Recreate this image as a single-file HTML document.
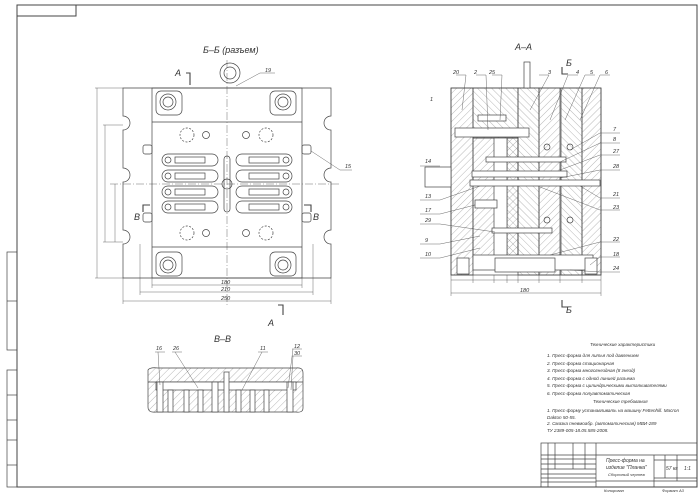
<!DOCTYPE html>
<html><head><meta charset="utf-8"><style>
html,body{margin:0;padding:0;background:#fff;}
svg{display:block;}
text{font-family:"Liberation Sans",sans-serif;font-style:italic;fill:#333;}
</style></head><body>
<svg width="700" height="495" viewBox="0 0 700 495" xmlns="http://www.w3.org/2000/svg">
<defs>
<pattern id="h1" width="5" height="5" patternUnits="userSpaceOnUse" patternTransform="rotate(45)"><line x1="0" y1="0" x2="0" y2="5" stroke="#888" stroke-width="0.6"/></pattern>
<pattern id="h2" width="5" height="5" patternUnits="userSpaceOnUse" patternTransform="rotate(-45)"><line x1="0" y1="0" x2="0" y2="5" stroke="#888" stroke-width="0.6"/></pattern>
</defs>
<g fill="none" stroke="#444" stroke-width="0.7">
<!-- frame -->
<rect x="17" y="5" width="680" height="482" stroke-width="1"/>
<rect x="17" y="5" width="59" height="11" stroke-width="1"/>
<rect x="7" y="252" width="10" height="98"/><line x1="7" y1="301" x2="17" y2="301"/>
<rect x="7" y="370" width="10" height="117"/>
<line x1="7" y1="395" x2="17" y2="395"/><line x1="7" y1="420" x2="17" y2="420"/><line x1="7" y1="440" x2="17" y2="440"/><line x1="7" y1="465" x2="17" y2="465"/>

<!-- B-B view -->
<path d="M123 88 H331 V116 A7 7 0 0 0 331 130 V168 A7 7 0 0 0 331 182 V230 A7 7 0 0 0 331 244 V278 H123 V244 A7 7 0 0 0 123 230 V182 A7 7 0 0 0 123 168 V130 A7 7 0 0 0 123 116 Z"/>
<rect x="152" y="88" width="150" height="190"/>
<line x1="152" y1="122" x2="302" y2="122"/><line x1="152" y1="247" x2="302" y2="247"/>
<g>
<rect x="156" y="91" width="26" height="24" rx="5"/><circle cx="168" cy="102" r="8"/><circle cx="168" cy="102" r="5"/>
<rect x="270" y="91" width="26" height="24" rx="5"/><circle cx="283" cy="102" r="8"/><circle cx="283" cy="102" r="5"/>
<rect x="156" y="252" width="26" height="24" rx="5"/><circle cx="168" cy="265" r="8"/><circle cx="168" cy="265" r="5"/>
<rect x="270" y="252" width="26" height="24" rx="5"/><circle cx="283" cy="265" r="8"/><circle cx="283" cy="265" r="5"/>
</g>
<circle cx="230" cy="73" r="10"/><circle cx="230" cy="73" r="6"/>
<g stroke-dasharray="2 1.5"><circle cx="187" cy="135" r="7"/><circle cx="266" cy="135" r="7"/><circle cx="187" cy="233" r="7"/><circle cx="266" cy="233" r="7"/></g>
<circle cx="206" cy="135" r="3.5"/><circle cx="246" cy="135" r="3.5"/><circle cx="206" cy="233" r="3.5"/><circle cx="246" cy="233" r="3.5"/>
<g>
<rect x="162" y="154" width="56" height="12" rx="6"/><rect x="236" y="154" width="56" height="12" rx="6"/>
<rect x="162" y="170" width="56" height="12" rx="6"/><rect x="236" y="170" width="56" height="12" rx="6"/>
<rect x="162" y="186" width="56" height="12" rx="6"/><rect x="236" y="186" width="56" height="12" rx="6"/>
<rect x="162" y="201" width="56" height="12" rx="6"/><rect x="236" y="201" width="56" height="12" rx="6"/>
<rect x="175" y="157" width="30" height="6"/><rect x="249" y="157" width="30" height="6"/>
<rect x="175" y="173" width="30" height="6"/><rect x="249" y="173" width="30" height="6"/>
<rect x="175" y="189" width="30" height="6"/><rect x="249" y="189" width="30" height="6"/>
<rect x="175" y="204" width="30" height="6"/><rect x="249" y="204" width="30" height="6"/>
<circle cx="168" cy="160" r="3"/><circle cx="286" cy="160" r="3"/><circle cx="168" cy="176" r="3"/><circle cx="286" cy="176" r="3"/>
<circle cx="168" cy="192" r="3"/><circle cx="286" cy="192" r="3"/><circle cx="168" cy="207" r="3"/><circle cx="286" cy="207" r="3"/>
<rect x="224" y="156" width="6" height="56" rx="3"/><circle cx="227" cy="184" r="5"/>
</g>
<rect x="143" y="145" width="9" height="9" rx="2"/><rect x="302" y="145" width="9" height="9" rx="2"/>
<rect x="143" y="213" width="9" height="9" rx="2"/><rect x="302" y="213" width="9" height="9" rx="2"/>
<g stroke-width="0.4" stroke-dasharray="8 2 1 2"><line x1="227" y1="60" x2="227" y2="305"/><line x1="110" y1="184" x2="340" y2="184"/></g>
<g stroke-width="0.4">
<line x1="152" y1="278" x2="152" y2="288"/><line x1="302" y1="278" x2="302" y2="288"/><line x1="152" y1="285" x2="302" y2="285"/>
<line x1="140" y1="244" x2="140" y2="295"/><line x1="313" y1="244" x2="313" y2="295"/><line x1="140" y1="292" x2="313" y2="292"/>
<line x1="123" y1="278" x2="123" y2="304"/><line x1="331" y1="278" x2="331" y2="304"/><line x1="123" y1="301" x2="331" y2="301"/>
<line x1="97" y1="88" x2="97" y2="278"/><line x1="95" y1="88" x2="123" y2="88"/><line x1="95" y1="278" x2="123" y2="278"/>
<line x1="105" y1="125" x2="105" y2="242"/><line x1="103" y1="125" x2="123" y2="125"/><line x1="103" y1="242" x2="123" y2="242"/>
<line x1="115" y1="184" x2="115" y2="242"/>
<line x1="236" y1="86" x2="260" y2="73"/><line x1="260" y1="73" x2="275" y2="73"/>
<line x1="311" y1="151" x2="340" y2="170"/><line x1="340" y1="170" x2="352" y2="170"/>
</g>
<g stroke-width="1.1"><path d="M186 73 H190 V85"/><path d="M150 205 H143 V212"/><path d="M304 205 H311 V212"/><path d="M278 305 H283 V315"/></g>

<!-- A-A view -->
<rect x="451" y="88" width="22" height="187" fill="url(#h1)"/>
<rect x="473" y="88" width="45" height="50" fill="url(#h2)"/>
<rect x="473" y="138" width="45" height="120" fill="url(#h1)"/>
<rect x="507" y="138" width="11" height="120" fill="url(#h2)"/>
<rect x="518" y="88" width="21" height="187" fill="url(#h2)"/>
<rect x="539" y="88" width="21" height="187" fill="url(#h1)"/>
<rect x="561" y="88" width="21" height="187" fill="url(#h2)"/>
<rect x="582" y="88" width="19" height="187" fill="url(#h1)"/>
<rect x="451" y="88" width="150" height="187"/>
<g fill="#fff">
<rect x="455" y="128" width="74" height="9"/>
<rect x="494" y="138" width="13" height="120"/>
<rect x="473" y="255" width="120" height="15"/>
<rect x="457" y="258" width="12" height="16"/><rect x="585" y="258" width="12" height="16"/>
<rect x="495" y="258" width="60" height="14"/>
<rect x="425" y="167" width="26" height="20"/>
<rect x="472" y="171" width="95" height="6"/>
<rect x="470" y="180" width="130" height="6"/>
<rect x="486" y="157" width="80" height="5"/>
<rect x="492" y="228" width="60" height="5"/>
<rect x="475" y="200" width="22" height="8"/>
<rect x="478" y="115" width="28" height="6"/>
<rect x="524" y="62" width="6" height="26"/>
</g>
<circle cx="547" cy="147" r="3"/><circle cx="570" cy="147" r="3"/><circle cx="547" cy="220" r="3"/><circle cx="570" cy="220" r="3"/>
<line x1="451" y1="280" x2="601" y2="280" stroke-width="0.4"/><line x1="451" y1="293" x2="601" y2="293" stroke-width="0.4"/>
<g stroke-width="0.4"><line x1="473" y1="275" x2="473" y2="283"/><line x1="494" y1="275" x2="494" y2="283"/><line x1="507" y1="275" x2="507" y2="283"/><line x1="518" y1="275" x2="518" y2="283"/><line x1="539" y1="275" x2="539" y2="283"/><line x1="560" y1="275" x2="560" y2="283"/><line x1="582" y1="275" x2="582" y2="283"/><line x1="451" y1="275" x2="451" y2="296"/><line x1="601" y1="275" x2="601" y2="296"/></g>
<g stroke-width="1.1"><path d="M562 67 V74 H568"/><path d="M562 300 V307 H568"/></g>
<g stroke-width="0.4">
<line x1="456" y1="75" x2="466" y2="75"/><line x1="466" y1="75" x2="462" y2="110"/>
<line x1="476" y1="75" x2="486" y2="75"/><line x1="486" y1="75" x2="488" y2="130"/>
<line x1="492" y1="75" x2="502" y2="75"/><line x1="502" y1="75" x2="500" y2="120"/>
<line x1="539" y1="75" x2="549" y2="75"/><line x1="549" y1="75" x2="530" y2="110"/>
<line x1="568" y1="75" x2="578" y2="75"/><line x1="568" y1="75" x2="550" y2="120"/>
<line x1="585" y1="75" x2="595" y2="75"/><line x1="585" y1="75" x2="565" y2="120"/>
<line x1="610" y1="75" x2="600" y2="75"/><line x1="600" y1="75" x2="580" y2="120"/>
<line x1="600" y1="133" x2="620" y2="133"/><line x1="600" y1="133" x2="570" y2="150"/>
<line x1="600" y1="143" x2="620" y2="143"/><line x1="600" y1="143" x2="560" y2="162"/>
<line x1="600" y1="155" x2="620" y2="155"/><line x1="600" y1="155" x2="560" y2="170"/>
<line x1="600" y1="170" x2="620" y2="170"/><line x1="600" y1="170" x2="560" y2="178"/>
<line x1="600" y1="198" x2="620" y2="198"/><line x1="600" y1="198" x2="580" y2="186"/>
<line x1="600" y1="210" x2="620" y2="210"/><line x1="600" y1="210" x2="540" y2="187"/>
<line x1="600" y1="242" x2="620" y2="242"/><line x1="600" y1="242" x2="550" y2="255"/>
<line x1="600" y1="257" x2="620" y2="257"/><line x1="600" y1="257" x2="590" y2="265"/>
<line x1="600" y1="272" x2="620" y2="272"/><line x1="600" y1="272" x2="570" y2="270"/>
<line x1="420" y1="166" x2="440" y2="166"/>
<line x1="420" y1="200" x2="440" y2="200"/><line x1="440" y1="200" x2="480" y2="186"/>
<line x1="420" y1="214" x2="440" y2="214"/><line x1="440" y1="214" x2="475" y2="205"/>
<line x1="420" y1="224" x2="440" y2="224"/><line x1="440" y1="224" x2="495" y2="232"/>
<line x1="420" y1="244" x2="440" y2="244"/><line x1="440" y1="244" x2="480" y2="236"/>
<line x1="420" y1="258" x2="440" y2="258"/><line x1="440" y1="258" x2="480" y2="248"/>
</g>

<!-- В-В -->
<path d="M148 370 Q150 367 158 368 H296 Q303 367 303 373 V408 Q303 413 296 412 H156 Q148 413 148 407 Z" fill="url(#h1)"/>
<line x1="148" y1="382" x2="303" y2="382"/>
<g fill="#fff">
<rect x="156" y="382" width="140" height="8"/>
<rect x="157" y="382" width="6" height="30"/><rect x="168" y="390" width="5" height="22"/><rect x="184" y="390" width="5" height="22"/><rect x="198" y="390" width="5" height="22"/>
<rect x="212" y="382" width="6" height="30"/><rect x="224" y="372" width="5" height="40"/>
<rect x="236" y="390" width="5" height="22"/><rect x="250" y="390" width="5" height="22"/><rect x="264" y="390" width="5" height="22"/><rect x="287" y="382" width="6" height="30"/>
</g>
<g stroke-width="0.4">
<line x1="155" y1="352" x2="165" y2="352"/><line x1="158" y1="352" x2="160" y2="385"/>
<line x1="172" y1="352" x2="182" y2="352"/><line x1="175" y1="352" x2="198" y2="388"/>
<line x1="258" y1="352" x2="268" y2="352"/><line x1="262" y1="352" x2="242" y2="390"/>
<line x1="292" y1="349" x2="302" y2="349"/><line x1="293" y1="349" x2="288" y2="388"/>
<line x1="292" y1="356" x2="302" y2="356"/><line x1="293" y1="356" x2="291" y2="390"/>
</g>

<!-- title block -->
<rect x="541" y="443" width="156" height="44"/>
<line x1="541" y1="455" x2="596" y2="455"/><line x1="541" y1="459" x2="596" y2="459"/>
<line x1="541" y1="464" x2="596" y2="464"/><line x1="541" y1="469" x2="596" y2="469"/><line x1="541" y1="474" x2="596" y2="474"/>
<line x1="541" y1="478" x2="596" y2="478"/><line x1="541" y1="482" x2="596" y2="482"/>
<line x1="548" y1="443" x2="548" y2="487"/><line x1="555" y1="443" x2="555" y2="469"/><line x1="573" y1="443" x2="573" y2="469"/><line x1="585" y1="443" x2="585" y2="469"/><line x1="596" y1="443" x2="596" y2="487"/>
<line x1="596" y1="455" x2="697" y2="455"/>
<line x1="654" y1="455" x2="654" y2="487"/><line x1="654" y1="460" x2="697" y2="460"/><line x1="654" y1="478" x2="697" y2="478"/><line x1="596" y1="481" x2="697" y2="481"/>
<line x1="665" y1="455" x2="665" y2="478"/><line x1="677" y1="455" x2="677" y2="481"/>
</g>
<g font-size="9">
<text x="203" y="53">Б–Б (разъем)</text>
<text x="515" y="50">А–А</text>
<text x="214" y="342">В–В</text>
<text x="175" y="76" font-style="normal">А</text>
<text x="268" y="326" font-style="normal">А</text>
<text x="134" y="220" font-style="normal">В</text>
<text x="313" y="220" font-style="normal">В</text>
<text x="566" y="66" font-style="normal">Б</text>
<text x="566" y="313" font-style="normal">Б</text>
</g>
<g font-size="5.5">
<text x="265" y="72">19</text><text x="345" y="168">15</text>
<text x="221" y="284">180</text><text x="221" y="291">210</text><text x="221" y="300">250</text>
<text x="520" y="292">180</text>
<text x="453" y="74">20</text><text x="474" y="74">2</text><text x="489" y="74">25</text><text x="548" y="74">3</text><text x="576" y="74">4</text><text x="590" y="74">5</text><text x="605" y="74">6</text>
<text x="430" y="101">1</text><text x="425" y="163">14</text>
<text x="613" y="131">7</text><text x="613" y="141">8</text><text x="613" y="153">27</text><text x="613" y="168">28</text>
<text x="613" y="196">21</text><text x="613" y="209">23</text><text x="613" y="241">22</text><text x="613" y="256">18</text><text x="613" y="270">24</text>
<text x="425" y="198">13</text><text x="425" y="212">17</text><text x="425" y="222">29</text><text x="425" y="242">9</text><text x="425" y="256">10</text>
<text x="156" y="350">16</text><text x="173" y="350">26</text><text x="260" y="350">11</text><text x="294" y="348">12</text><text x="294" y="355">30</text>
</g>
<g font-size="4.6" fill="#444">
<text x="590" y="346">Технические характеристики</text>
<text x="547" y="357">1. Пресс-форма для литья под давлением</text>
<text x="547" y="365">2. Пресс-форма стационарная</text>
<text x="547" y="372">3. Пресс-форма многогнездная (8 гнезд)</text>
<text x="547" y="380">4. Пресс-форма с одной линией разъема</text>
<text x="547" y="387">5. Пресс-форма с цилиндрическими выталкивателями</text>
<text x="547" y="395">6. Пресс-форма полуавтоматическая</text>
<text x="593" y="403">Технические требования</text>
<text x="547" y="412">1. Пресс-форму устанавливать на машину Fettenhill. Macron</text>
<text x="547" y="419">Dakton 50-55.</text>
<text x="547" y="425">2. Смазка пневмоабр. (автоматическая) МВИ-289</text>
<text x="547" y="432">ТУ 2389-005-18.05.585-2008.</text>
<text x="606" y="462" font-size="5">Пресс-форма на</text>
<text x="606" y="469" font-size="5">изделие "Планка"</text>
<text x="608" y="476" font-size="4">Сборочный чертеж</text>
<text x="666" y="470" font-size="5">57 кг</text><text x="684" y="470" font-size="5">1:1</text>
<text x="604" y="492" font-size="4">Копировал</text><text x="662" y="492" font-size="4">Формат A3</text>
</g>
</svg>
</body></html>
